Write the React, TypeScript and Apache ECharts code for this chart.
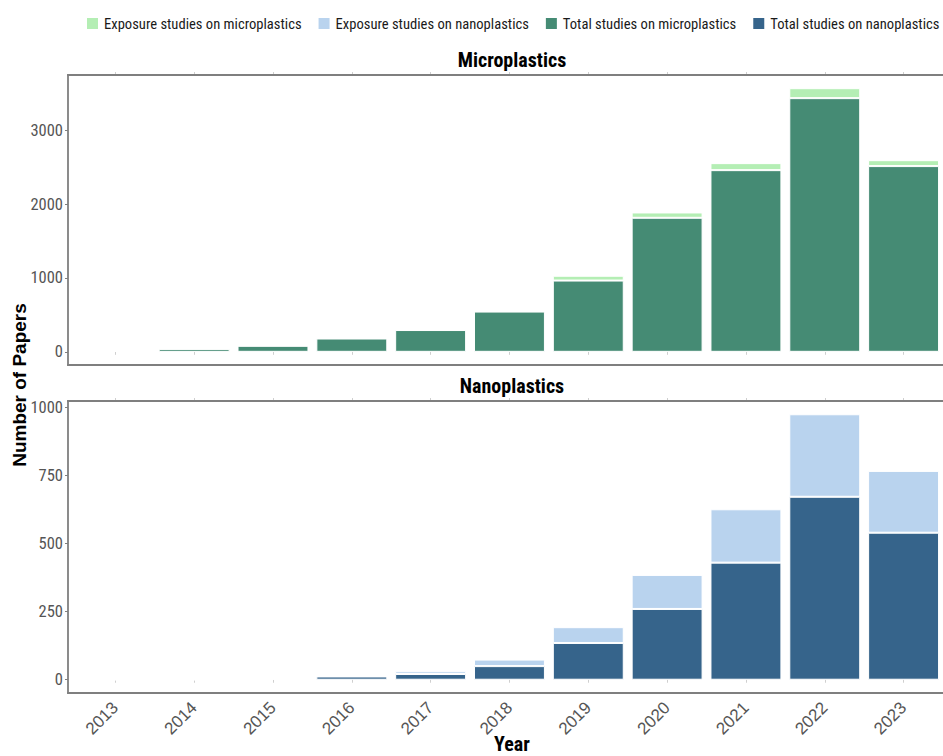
import React, { useEffect, useRef } from "react";
import * as echarts from "echarts";

// Publication counts per year
const years = ["2013", "2014", "2015", "2016", "2017", "2018", "2019", "2020", "2021", "2022", "2023"];
const microTotal = [12, 40, 82, 180, 295, 545, 965, 1815, 2460, 3435, 2515];
const microExposure = [0, 0, 1, 2, 3, 6, 65, 72, 95, 135, 80];
const nanoTotal = [0, 0, 4, 12, 21, 50, 135, 260, 430, 672, 540];
const nanoExposure = [0, 0, 2, 3, 10, 24, 58, 125, 196, 303, 227];

const microTicks = [0, 1000, 2000, 3000];
const nanoTicks = [0, 250, 500, 750, 1000];

const SERIES_NAMES = {
  microExp: "Exposure studies on microplastics",
  nanoExp: "Exposure studies on nanoplastics",
  microTot: "Total studies on microplastics",
  nanoTot: "Total studies on nanoplastics",
};

const COLORS = {
  microExp: "#B4EEB4",
  nanoExp: "#B9D3EE",
  microTot: "#458B74",
  nanoTot: "#36648B",
};

const FONT_NARROW =
  "'Liberation Sans Narrow', 'Arial Narrow', 'Roboto Condensed', 'Liberation Sans', sans-serif";
const FONT = "'Liberation Sans', Arial, sans-serif";

// Panel geometry: the panel box starts at PANEL_LEFT; the category bands sit inside it
// with a 0.6-band margin on each side (0.1 band beyond the half band ECharts already adds).
const W = 943;
const H = 756;
const PANEL_LEFT = 68;
const PANEL_WIDTH = 888;
const BAND = PANEL_WIDTH / (years.length + 0.2);
const GRID_LEFT = PANEL_LEFT + 0.1 * BAND;
const GRID_WIDTH = BAND * years.length;
const TOP_PANEL = { top: 75, height: 290 };
const BOTTOM_PANEL = { top: 401, height: 292 };

const AXIS_GREY = "#7f7f7f";
const LABEL_GREY = "#555555";

// 5% of the data range added on each side of the value axis
function expandedRange(total: number[], extra: number[]) {
  const max = Math.max(...total.map((v, i) => v + extra[i]));
  return { min: -0.05 * max, max: 1.05 * max };
}

export default function App() {
  const ref = useRef<HTMLDivElement>(null);

  useEffect(() => {
    document.body.style.margin = "0";
    const chart = echarts.init(ref.current!, null, { renderer: "svg" });

    const microRange = expandedRange(microTotal, microExposure);
    const nanoRange = expandedRange(nanoTotal, nanoExposure);

    const xAxisBase = (gridIndex: number, position: "top" | "bottom", labels: boolean) => ({
      type: "category",
      gridIndex,
      position,
      data: years,
      boundaryGap: true,
      splitLine: { show: false },
      axisLine: { show: false },
      axisTick: {
        show: true,
        alignWithLabel: true,
        interval: 0,
        length: 3,
        lineStyle: { color: "#cfcfcf", width: 1 },
      },
      axisLabel: labels
        ? {
            show: true,
            interval: 0,
            rotate: 45,
            margin: 12,
            color: LABEL_GREY,
            fontSize: 17,
            fontFamily: FONT,
          }
        : { show: false },
    });

    const yAxisBase = (gridIndex: number, range: { min: number; max: number }, ticks: number[]) => ({
      type: "value",
      gridIndex,
      min: range.min,
      max: range.max,
      offset: GRID_LEFT - PANEL_LEFT,
      splitLine: { show: false },
      axisLine: { show: true, lineStyle: { color: AXIS_GREY, width: 1.8 } },
      axisTick: {
        show: true,
        customValues: ticks,
        length: 3,
        lineStyle: { color: AXIS_GREY, width: 1 },
      },
      axisLabel: {
        show: true,
        customValues: ticks,
        margin: 5,
        color: LABEL_GREY,
        fontSize: 16.5,
        fontFamily: FONT_NARROW,
        formatter: (v: number) => String(v),
      },
    });

    const barStyle = (color: string) => ({
      color,
      borderColor: "#ffffff",
      borderWidth: 1,
    });

    const bar = (name: string, gridIdx: number, stack: string, color: string, data: number[]) => ({
      name,
      type: "bar",
      xAxisIndex: gridIdx * 2,
      yAxisIndex: gridIdx,
      stack,
      barWidth: "90%",
      itemStyle: barStyle(color),
      data,
    });

    const panelCenter = PANEL_LEFT + PANEL_WIDTH / 2;

    // Panel top and bottom border lines (the left one is the y axis line)
    const borderLine = (y: number) => ({
      type: "line",
      shape: { x1: PANEL_LEFT - 0.9, y1: y, x2: W, y2: y },
      style: { stroke: AXIS_GREY, lineWidth: 1.8 },
      z: 10,
    });

    const title = (text: string, y: number, fontSpec: string) => ({
      type: "text",
      x: panelCenter,
      y,
      style: {
        text,
        align: "center",
        verticalAlign: "middle",
        font: fontSpec,
        fill: "#000000",
      },
    });

    chart.setOption({
      animation: false,
      backgroundColor: "#ffffff",
      legend: {
        left: 80,
        top: 11,
        width: 880,
        icon: "rect",
        itemWidth: 13,
        itemHeight: 13,
        itemGap: 15,
        textStyle: { fontSize: 14.6, fontFamily: FONT_NARROW, color: "#1a1a1a" },
        data: [SERIES_NAMES.microExp, SERIES_NAMES.nanoExp, SERIES_NAMES.microTot, SERIES_NAMES.nanoTot],
      },
      grid: [
        { left: GRID_LEFT, width: GRID_WIDTH, top: TOP_PANEL.top, height: TOP_PANEL.height },
        { left: GRID_LEFT, width: GRID_WIDTH, top: BOTTOM_PANEL.top, height: BOTTOM_PANEL.height },
      ],
      xAxis: [
        xAxisBase(0, "bottom", false),
        xAxisBase(0, "top", false),
        xAxisBase(1, "bottom", true),
        xAxisBase(1, "top", false),
      ],
      yAxis: [yAxisBase(0, microRange, microTicks), yAxisBase(1, nanoRange, nanoTicks)],
      series: [
        bar(SERIES_NAMES.microTot, 0, "micro", COLORS.microTot, microTotal),
        bar(SERIES_NAMES.microExp, 0, "micro", COLORS.microExp, microExposure),
        bar(SERIES_NAMES.nanoTot, 1, "nano", COLORS.nanoTot, nanoTotal),
        bar(SERIES_NAMES.nanoExp, 1, "nano", COLORS.nanoExp, nanoExposure),
      ],
      graphic: [
        borderLine(TOP_PANEL.top),
        borderLine(TOP_PANEL.top + TOP_PANEL.height),
        borderLine(BOTTOM_PANEL.top),
        borderLine(BOTTOM_PANEL.top + BOTTOM_PANEL.height),
        title("Microplastics", 60, `bold 20px ${FONT_NARROW}`),
        title("Nanoplastics", 386, `bold 20px ${FONT_NARROW}`),
        title("Year", H - 12, `bold 20px ${FONT_NARROW}`),
        {
          type: "text",
          x: 19,
          y: 385,
          rotation: Math.PI / 2,
          style: {
            text: "Number of Papers",
            align: "center",
            verticalAlign: "middle",
            font: `bold 19px ${FONT}`,
            fill: "#000000",
          },
        },
      ],
    });

    return () => chart.dispose();
  }, []);

  return (
    <div
      ref={ref}
      style={{ position: "absolute", left: 0, top: 0, width: W, height: H, overflow: "hidden" }}
    />
  );
}
